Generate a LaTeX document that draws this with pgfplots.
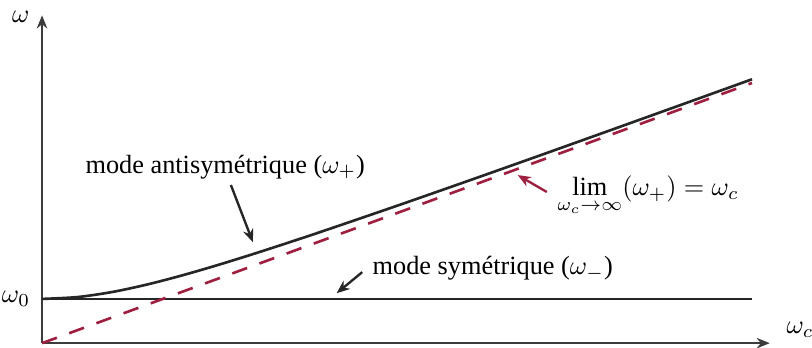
\documentclass[border=0pt]{standalone}
\usepackage{fontspec}
\setmainfont{Liberation Serif}
\usepackage{pgfplots}
\pgfplotsset{compat=1.18}
\usetikzlibrary{arrows.meta}
\definecolor{cLine}{HTML}{262626}
\definecolor{cAxis}{HTML}{3C3C3C}
\definecolor{cRed}{HTML}{9E1F3F}

% omega_+ (omega_0 = 1.7)
\pgfplotstableread{
x     y
0.0   1.700
0.5   1.772
1.0   1.972
1.5   2.267
2.0   2.625
2.5   3.023
3.0   3.448
3.5   3.891
4.0   4.346
5.0   5.281
6.0   6.236
7.0   7.203
8.0   8.179
9.0   9.159
10.0  10.143
}\plus

\begin{document}
\begin{tikzpicture}
\begin{axis}[
  scale only axis,
  width=276.6pt, height=124.6pt,
  xmin=0, xmax=10.25, ymin=0, ymax=12.6,
  axis lines=left,
  axis line style={draw=cAxis, line width=0.8pt, -{Stealth[length=5pt,width=4pt]}},
  xtick=\empty,
  ytick={1.7}, yticklabels={$\omega_0$},
  major tick length=0pt,
  yticklabel style={font=\normalsize, xshift=-1pt},
  clip=false,
]
\addplot[cLine, line width=1pt, smooth] table {\plus};
\addplot[cLine, line width=1pt] coordinates {(0,1.7) (10.0,1.7)};
\addplot[cRed, line width=1pt, dash pattern=on 6pt off 5pt] coordinates {(0,0) (10.0,10.0)};

\node at (axis cs:-0.30,12.55) {$\omega$};
\node[anchor=west, inner sep=0pt] at (axis cs:10.48,0.5) {$\omega_c$};

\node[anchor=base west, inner sep=0pt] at (axis cs:0.606,6.54) {mode antisymétrique ($\omega_+$)};
\draw[cLine, line width=0.9pt, -{Stealth[length=5pt,width=4pt]}] (axis cs:2.66,6.08) -- (axis cs:2.97,3.88);

\node[anchor=base west, inner sep=0pt] at (axis cs:7.25,5.69) {$\displaystyle\lim_{\omega_c\to\infty}(\omega_+)=\omega_c$};
\draw[cRed, line width=0.9pt, -{Stealth[length=5pt,width=4pt]}] (axis cs:7.11,5.81) -- (axis cs:6.70,6.46);

\node[anchor=base west, inner sep=0pt] at (axis cs:4.65,2.62) {mode symétrique ($\omega_-$)};
\draw[cLine, line width=0.9pt, -{Stealth[length=5pt,width=4pt]}] (axis cs:4.51,2.73) -- (axis cs:4.15,1.92);

\coordinate (bbA) at (axis cs:-0.592,-0.154);
\coordinate (bbB) at (axis cs:10.845,13.19);
\end{axis}
\pgfresetboundingbox
\useasboundingbox (bbA) rectangle (bbB);
\end{tikzpicture}
\end{document}
